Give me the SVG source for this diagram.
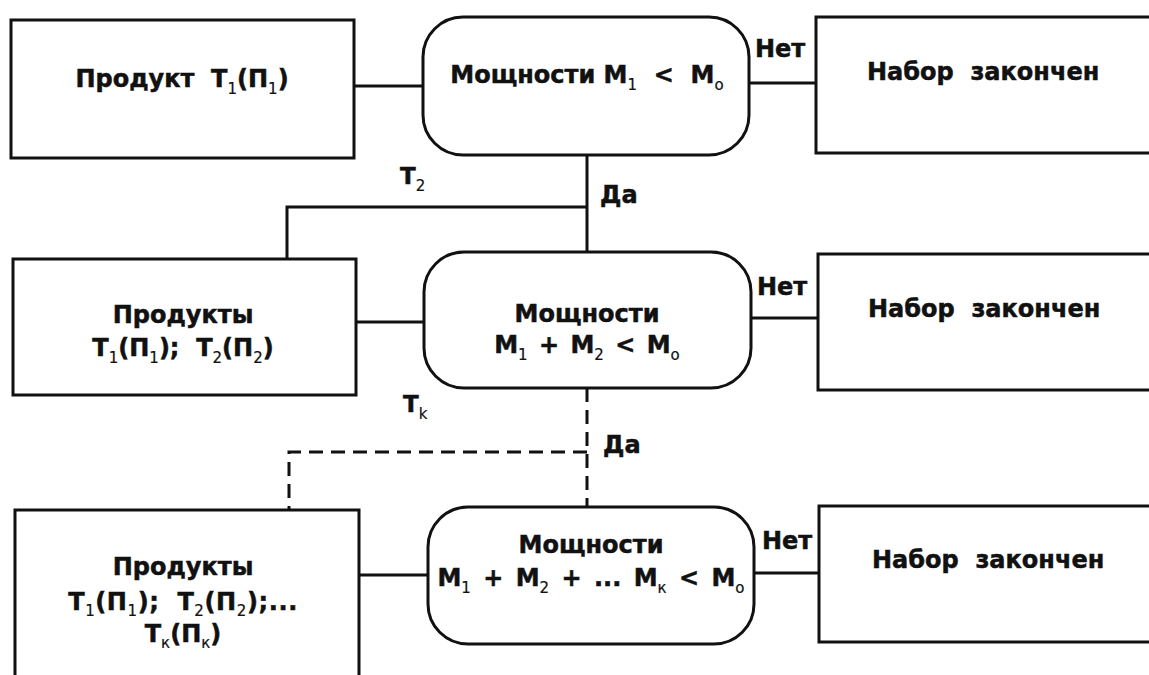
<svg xmlns="http://www.w3.org/2000/svg" width="1149" height="675" viewBox="0 0 1149 675">
<style>
.box{fill:#fff;stroke:#111;stroke-width:3}
.ln{fill:none;stroke:#111;stroke-width:3}
.dash{stroke-dasharray:14 8}
text{font-family:"DejaVu Sans","Liberation Sans",sans-serif;font-weight:bold;font-size:24px;fill:#111;stroke:#111;stroke-width:0.5}
.c{text-anchor:middle}
.s{font-size:15px;font-weight:normal;stroke-width:0.2}
.lbl{font-size:23px}
</style>
<rect width="1149" height="675" fill="#fff"/>
<g id="connectors">
<line class="ln" x1="354" y1="86" x2="423" y2="86"/>
<line class="ln" x1="749" y1="83" x2="816" y2="83"/>
<line class="ln" x1="587" y1="155" x2="587" y2="252"/>
<polyline class="ln" points="587,207 287,207 287,259"/>
<line class="ln" x1="356" y1="322" x2="424" y2="322"/>
<line class="ln" x1="751" y1="318" x2="818" y2="318"/>
<line class="ln dash" x1="587" y1="388" x2="587" y2="507"/>
<polyline class="ln dash" points="587,452 289,452 289,510"/>
<line class="ln" x1="359" y1="575" x2="428" y2="575"/>
<line class="ln" x1="754" y1="573" x2="819" y2="573"/>
<text x="755" y="57">Нет</text>
<text x="757" y="295">Нет</text>
<text x="762" y="549">Нет</text>
<text x="600" y="203">Да</text>
<text x="603" y="453">Да</text>
<text class="lbl" x="400" y="184">Т<tspan class="s" dy="7">2</tspan></text>
<text class="lbl" x="403" y="412">Т<tspan class="s" dy="7">k</tspan></text>
</g>
<g id="product1">
<rect class="box" x="11" y="20" width="343" height="138"/>
<text class="c" x="182" y="87" xml:space="preserve">Продукт  Т<tspan class="s" dy="7">1</tspan><tspan dy="-7">(П</tspan><tspan class="s" dy="7">1</tspan><tspan dy="-7">)</tspan></text>
</g>
<g id="cond1">
<rect class="box" x="423" y="17" width="326" height="138" rx="40"/>
<text class="c" x="587" y="83" xml:space="preserve">Мощности М<tspan class="s" dy="7">1</tspan><tspan dy="-7">  &lt;  М</tspan><tspan class="s" dy="7">о</tspan></text>
</g>
<g id="done1">
<rect class="box" x="816" y="17" width="400" height="136"/>
<text x="867" y="80" xml:space="preserve">Набор  закончен</text>
</g>
<g id="product2">
<rect class="box" x="13" y="259" width="343" height="136"/>
<text class="c" x="183" y="323">Продукты</text>
<text class="c" x="183" y="356" xml:space="preserve">Т<tspan class="s" dy="7">1</tspan><tspan dy="-7">(П</tspan><tspan class="s" dy="7">1</tspan><tspan dy="-7">);  Т</tspan><tspan class="s" dy="7">2</tspan><tspan dy="-7">(П</tspan><tspan class="s" dy="7">2</tspan><tspan dy="-7">)</tspan></text>
</g>
<g id="cond2">
<rect class="box" x="424" y="252" width="327" height="136" rx="40"/>
<text class="c" x="587" y="322">Мощности</text>
<text class="c" x="587" y="353" style="word-spacing:3px">М<tspan class="s" dy="7">1</tspan><tspan dy="-7"> + М</tspan><tspan class="s" dy="7">2</tspan><tspan dy="-7"> &lt; М</tspan><tspan class="s" dy="7">о</tspan></text>
</g>
<g id="done2">
<rect class="box" x="818" y="254" width="400" height="136"/>
<text x="868" y="317" xml:space="preserve">Набор  закончен</text>
</g>
<g id="product3">
<rect class="box" x="15" y="510" width="344" height="220"/>
<text class="c" x="183" y="575">Продукты</text>
<text class="c" x="183" y="610" xml:space="preserve" style="letter-spacing:0.6px">Т<tspan class="s" dy="6">1</tspan><tspan dy="-6">(П</tspan><tspan class="s" dy="6">1</tspan><tspan dy="-6">);  Т</tspan><tspan class="s" dy="6">2</tspan><tspan dy="-6">(П</tspan><tspan class="s" dy="6">2</tspan><tspan dy="-6">);...</tspan></text>
<text class="c" x="183" y="642" xml:space="preserve">Т<tspan class="s" dy="6">к</tspan><tspan dy="-6">(П</tspan><tspan class="s" dy="6">к</tspan><tspan dy="-6">)</tspan></text>
</g>
<g id="cond3">
<rect class="box" x="428" y="507" width="326" height="137" rx="40"/>
<text class="c" x="591" y="553">Мощности</text>
<text class="c" x="591" y="586" style="word-spacing:4px">М<tspan class="s" dy="7">1</tspan><tspan dy="-7"> + М</tspan><tspan class="s" dy="7">2</tspan><tspan dy="-7"> + ... М</tspan><tspan class="s" dy="7">к</tspan><tspan dy="-7"> &lt; М</tspan><tspan class="s" dy="7">о</tspan></text>
</g>
<g id="done3">
<rect class="box" x="819" y="506" width="400" height="136"/>
<text x="872" y="568" xml:space="preserve">Набор  закончен</text>
</g>
</svg>
